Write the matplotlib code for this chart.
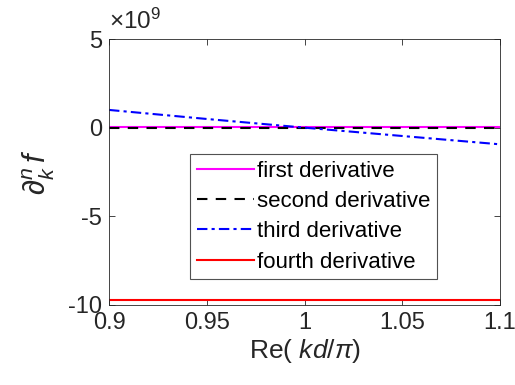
import matplotlib
matplotlib.use("Agg")
import matplotlib.pyplot as plt

plt.rcParams['font.family'] = ['Liberation Sans', 'DejaVu Sans']
plt.rcParams['mathtext.fontset'] = 'custom'
plt.rcParams['mathtext.rm'] = 'Liberation Sans'
plt.rcParams['mathtext.it'] = 'Liberation Sans:italic'
plt.rcParams['mathtext.cal'] = 'Liberation Sans:italic'
plt.rcParams['axes.unicode_minus'] = False

x = [0.9, 0.95, 1.0, 1.05, 1.1]
first = [0.01e9, 0.01e9, 0.01e9, 0.01e9, 0.01e9]
second = [-0.04e9, -0.04e9, -0.04e9, -0.04e9, -0.04e9]
third = [1.0e9, 0.49e9, 0.0, -0.47e9, -0.94e9]
fourth = [-9.72e9, -9.72e9, -9.72e9, -9.72e9, -9.72e9]
labels = ['first derivative', 'second derivative', 'third derivative', 'fourth derivative']
xticks = [0.9, 0.95, 1.0, 1.05, 1.1]
xticklabels = ['0.9', '0.95', '1', '1.05', '1.1']
yticks = [-10e9, -5e9, 0, 5e9]
yticklabels = ['-10', '-5', '0', '5']

tc = '#262626'
fig = plt.figure(figsize=(5.15, 3.85), dpi=100)
ax = fig.add_axes([0.2117, 0.2078, 0.971 - 0.2117, 0.8987 - 0.2078])

ax.plot(x, first, color='#ff00ff', lw=1.5, label=labels[0])
ax.plot(x, second, color='black', lw=1.5, linestyle=(0, (5, 4)), label=labels[1])
ax.plot(x, third, color='blue', lw=1.5, linestyle=(0, (5, 2, 1.5, 2)), label=labels[2])
ax.plot(x, fourth, color='red', lw=1.5, label=labels[3])

ax.set_xlim(0.9, 1.1)
ax.set_ylim(-10e9, 5e9)
ax.set_xticks(xticks)
ax.set_xticklabels(xticklabels)
ax.set_yticks(yticks)
ax.set_yticklabels(yticklabels)

ax.tick_params(direction='in', length=4, width=0.6, colors=tc, labelsize=17,
               top=True, right=True, pad=5)
for s in ax.spines.values():
    s.set_color(tc)
    s.set_linewidth(0.6)

ax.text(0.0, 1.02, r'$\times 10^{9}$', transform=ax.transAxes, fontsize=17.5,
        color=tc, ha='left', va='bottom')

ax.set_xlabel(r'Re( $kd/\pi$)', fontsize=19, color=tc, labelpad=2)
ax.set_ylabel(r'$\partial_k^n\, f$', fontsize=22, color=tc, labelpad=8)

leg = ax.legend(loc='upper left', bbox_to_anchor=(0.207, 0.568), borderaxespad=0,
                fontsize=16, frameon=True, fancybox=False, handlelength=2.6,
                handletextpad=0.1, borderpad=0.3, labelspacing=0.42,
                handleheight=0.7)
leg.get_frame().set_edgecolor(tc)
leg.get_frame().set_linewidth(0.8)

fig.savefig('out.png', dpi=100)
